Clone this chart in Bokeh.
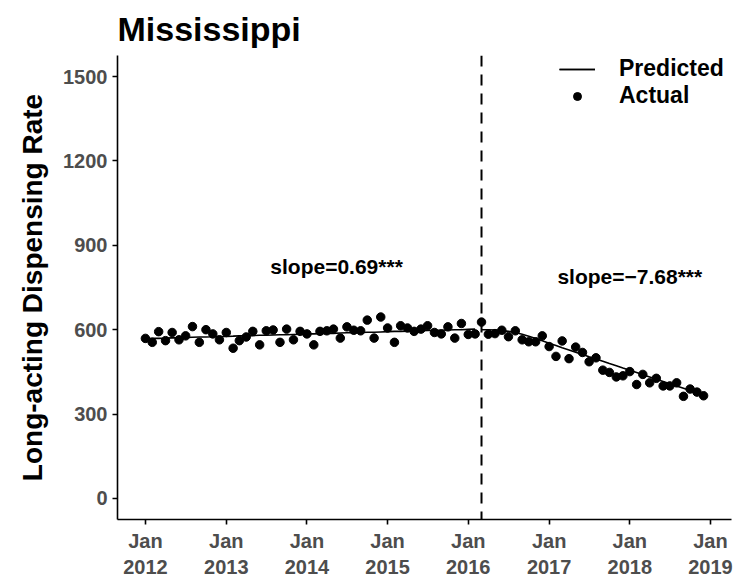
import pandas as pd
from bokeh.plotting import figure
from bokeh.models import (FixedTicker, Range1d, Span, Legend, LegendItem,
                          ColumnDataSource, DatetimeTickFormatter)
from bokeh.core.properties import value
from bokeh.embed import file_html
from bokeh.resources import INLINE

# ---------------- data ----------------
state = "Mississippi"
y_label = "Long-acting Dispensing Rate"
start_month = "2012-01-01"
end_month = "2018-12-01"
break_month = "2016-03-01"

actual = [569, 555, 593, 561, 590, 564, 578, 611, 555, 600, 585, 564,
          590, 534, 561, 574, 594, 546, 596, 599, 555, 602, 564, 594,
          585, 546, 594, 596, 602, 570, 610, 598, 596, 634, 570, 645,
          606, 555, 614, 606, 594, 602, 614, 590, 585, 610, 570, 622,
          583, 585, 627, 584, 586, 598, 575, 596, 564, 557, 557, 578,
          540, 505, 560, 497, 538, 519, 486, 500, 456, 448, 432, 436,
          451, 405, 441, 411, 427, 400, 400, 411, 363, 389, 378, 365]

predicted_pre = [568, 569, 569, 570, 571, 571, 572, 573, 574, 574, 575, 576,
                 576, 577, 578, 578, 579, 580, 580, 581, 582, 582, 583, 584,
                 585, 585, 586, 587, 587, 588, 589, 589, 590, 591, 591, 592,
                 593, 594, 594, 595, 596, 596, 597, 598, 598, 599, 600, 600,
                 601, 602]

predicted_post = [600, 600, 599, 597, 594, 590, 584, 577, 569, 561, 552, 544,
                  536, 528, 520, 512, 504, 496, 488, 480, 472, 464, 456, 448,
                  440, 432, 424, 416, 408, 400, 392, 384, 376, 368]

slope_text = ["slope=0.69***", "slope=\u22127.68***"]
slope_x = ["2014-05-15", "2018-01-01"]
slope_y = [824, 789]

y_ticks = [0, 300, 600, 900, 1200, 1500]
x_tick_years = [2012, 2013, 2014, 2015, 2016, 2017, 2018, 2019]

# ---------------- build ----------------
months = pd.date_range(start_month, end_month, freq="MS")
n_pre = len(predicted_pre)
src_act = ColumnDataSource(dict(x=months, y=actual))
src_pre = ColumnDataSource(dict(x=months[:n_pre], y=predicted_pre))
src_post = ColumnDataSource(dict(x=months[n_pre:], y=predicted_post))
src_txt = ColumnDataSource(dict(x=pd.to_datetime(slope_x), y=slope_y, text=slope_text))

span = months[-1] - months[0]
x0 = months[0] - 0.05 * span
x1 = months[-1] + 0.05 * span

FONT = "Liberation Sans"

p = figure(width=747, height=580, x_axis_type="datetime",
           output_backend="svg", toolbar_location=None,
           x_range=Range1d(x0, x1), y_range=Range1d(-75, 1575),
           min_border_left=117, min_border_right=16,
           min_border_top=54, min_border_bottom=58)

p.title.text = state
p.title.text_font = FONT
p.title.text_font_size = "34px"
p.title.text_font_style = "bold"
p.title.text_color = "black"
p.title.align = "left"
p.title.offset = 0
p.title.standoff = 15

p.outline_line_color = None
p.grid.visible = False
p.background_fill_color = "white"
p.border_fill_color = "white"

pre_r = p.line("x", "y", source=src_pre, line_color="black", line_width=1.6)
post_r = p.line("x", "y", source=src_post, line_color="black", line_width=1.6)
pts_r = p.scatter("x", "y", source=src_act, size=8.5, color="black")

p.add_layout(Span(location=pd.Timestamp(break_month).value / 1e6, dimension="height",
                  line_color="black", line_width=2, line_dash="11 8"))

p.text("x", "y", text="text", source=src_txt, text_font=value(FONT),
       text_font_style="bold", text_font_size="21px", text_align="center",
       text_baseline="middle", text_color="black")

# axes
p.xaxis.ticker = FixedTicker(ticks=[pd.Timestamp(f"{y}-01-01").value / 1e6 for y in x_tick_years])
fmt = "%b\n%Y"
p.xaxis.formatter = DatetimeTickFormatter(years=fmt, months=fmt, days=fmt, hours=fmt,
                                          hourmin=fmt, minutes=fmt, minsec=fmt,
                                          seconds=fmt, milliseconds=fmt, microseconds=fmt)
p.yaxis.ticker = FixedTicker(ticks=y_ticks)
for ax in (p.xaxis[0], p.yaxis[0]):
    ax.axis_line_color = "black"
    ax.axis_line_width = 1.6
    ax.major_tick_line_color = "black"
    ax.major_tick_line_width = 1.6
    ax.major_tick_out = 5
    ax.major_tick_in = 0
    ax.minor_tick_line_color = None
    ax.major_label_text_font = FONT
    ax.major_label_text_font_style = "bold"
    ax.major_label_text_font_size = "20px"
    ax.major_label_text_color = "#4D4D4D"
    ax.major_label_standoff = 5

p.yaxis.axis_label = y_label
p.yaxis.axis_label_text_font = FONT
p.yaxis.axis_label_text_font_style = "bold"
p.yaxis.axis_label_text_font_size = "28px"
p.yaxis.axis_label_text_color = "black"
p.yaxis.axis_label_standoff = 12

legend = Legend(items=[LegendItem(label="Predicted", renderers=[pre_r, post_r]),
                       LegendItem(label="Actual", renderers=[pts_r])],
                location=(442, 410), margin=0, padding=0, spacing=0,
                glyph_width=36, glyph_height=20, label_height=20,
                label_standoff=24, border_line_color=None,
                background_fill_alpha=0,
                label_text_font=FONT, label_text_font_style="bold",
                label_text_font_size="23px", label_text_color="black")
p.add_layout(legend)

open("out.html", "w").write(file_html(p, INLINE))
